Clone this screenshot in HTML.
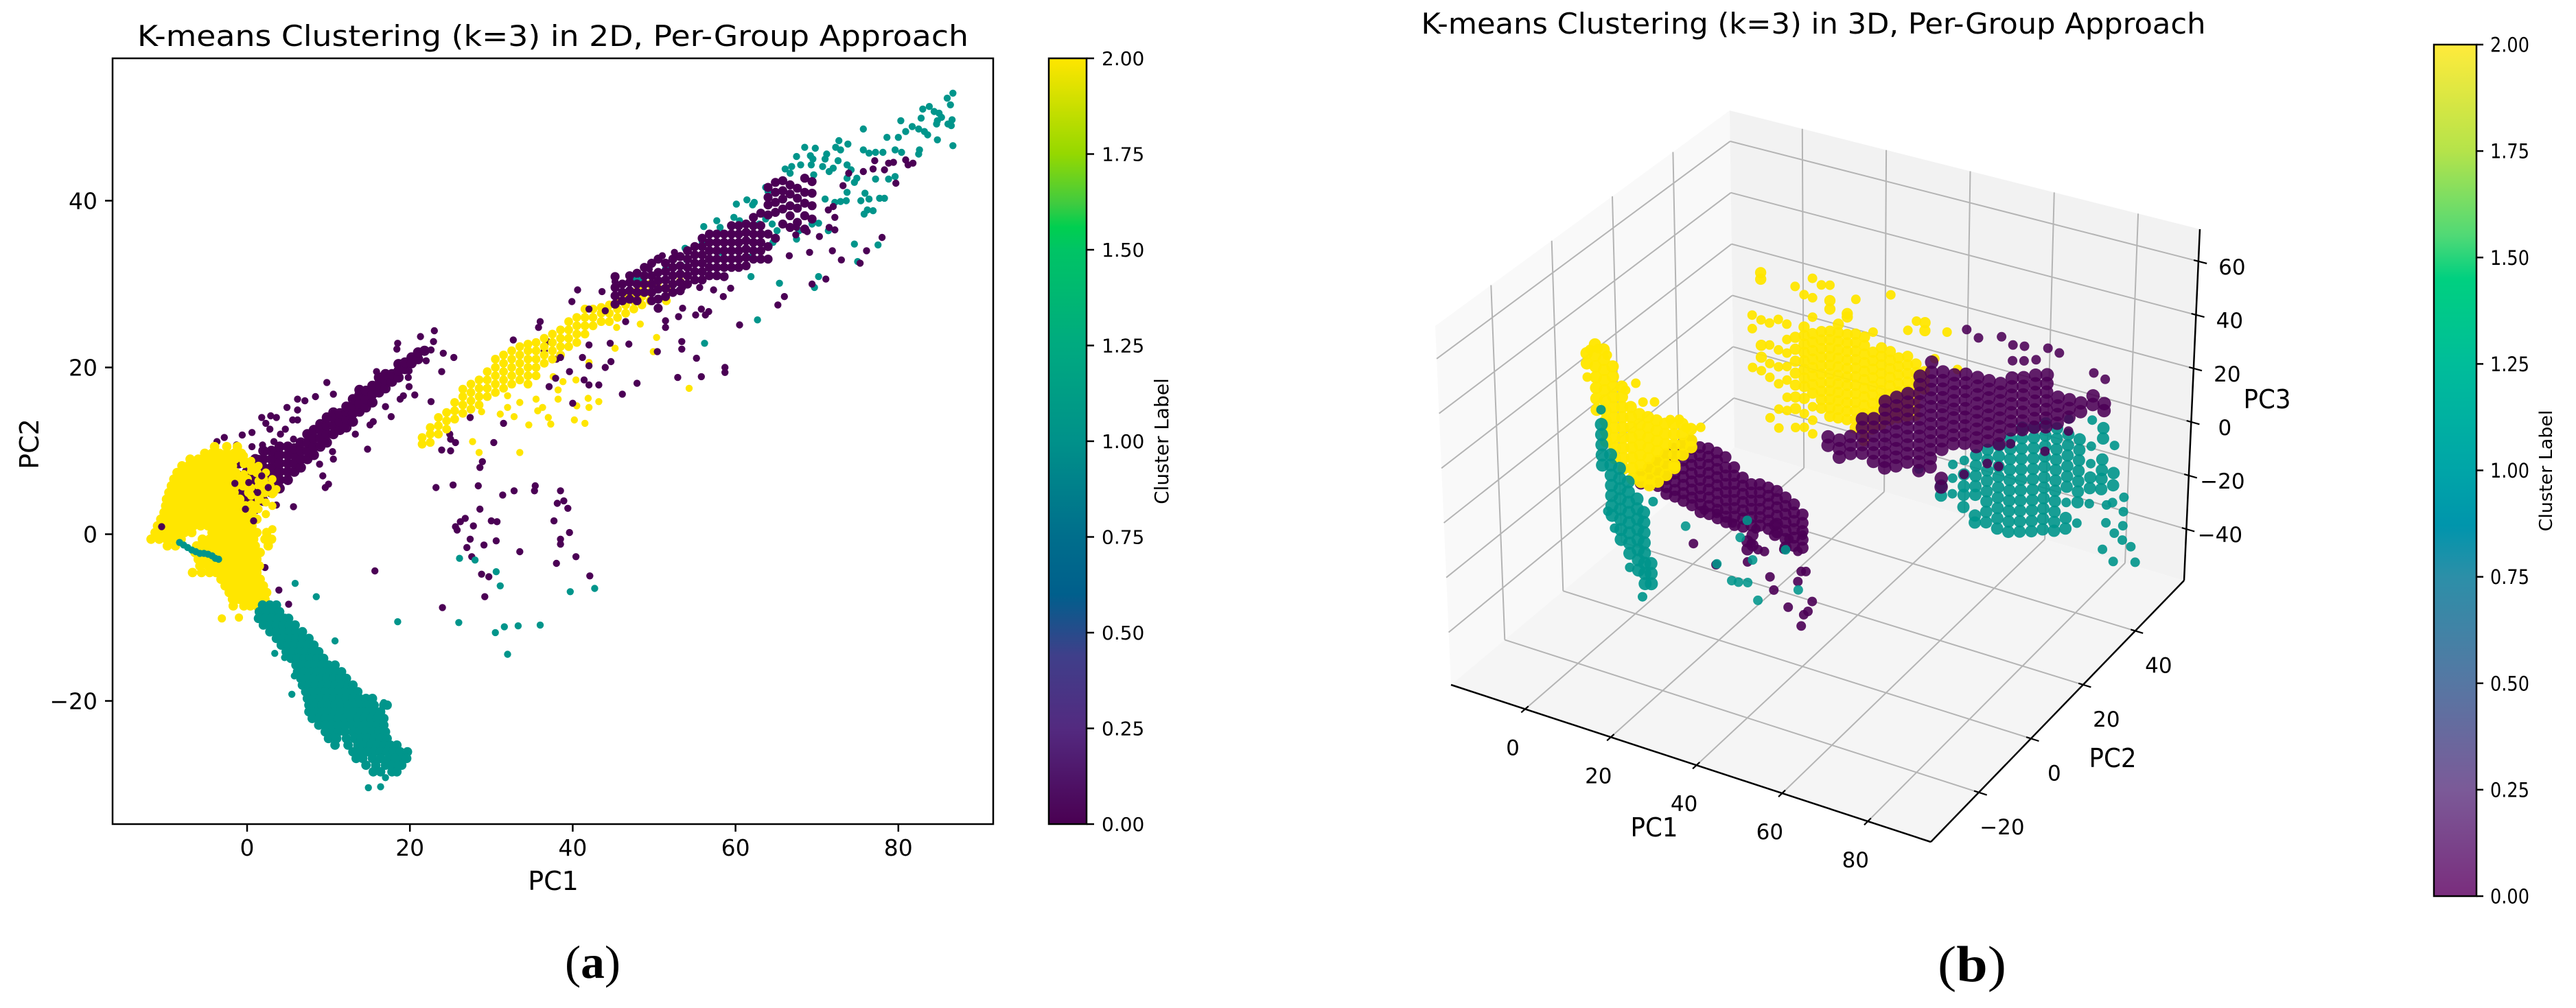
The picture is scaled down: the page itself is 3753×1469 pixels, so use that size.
<!DOCTYPE html>
<html lang="en">
<head>
<meta charset="utf-8">
<title>K-means Clustering (k=3), Per-Group Approach</title>
<style>
html,body{margin:0;padding:0;background:#fff;}
svg{display:block;}
text{font-family:"DejaVu Sans","Liberation Sans",sans-serif;fill:#000;}
.serif{font-family:"Liberation Serif",serif;}
</style>
</head>
<body>
<svg id="figure" xmlns="http://www.w3.org/2000/svg" width="3753" height="1469" viewBox="0 0 3753 1469">
<defs>
<linearGradient id="viridis2d" x1="0" y1="1" x2="0" y2="0">
<stop offset="0" stop-color="#4a0052"/><stop offset="0.125" stop-color="#532a80"/><stop offset="0.22" stop-color="#3f3f8a"/><stop offset="0.3" stop-color="#005f8c"/><stop offset="0.375" stop-color="#006e8c"/><stop offset="0.5" stop-color="#00918a"/><stop offset="0.625" stop-color="#00aa80"/><stop offset="0.75" stop-color="#00c465"/><stop offset="0.78" stop-color="#00cf50"/><stop offset="0.81" stop-color="#3fcb40"/><stop offset="0.875" stop-color="#95d800"/><stop offset="1" stop-color="#ffe600"/>
</linearGradient>
<linearGradient id="viridis3d" x1="0" y1="1" x2="0" y2="0">
<stop offset="0" stop-color="#7a2d7d"/><stop offset="0.125" stop-color="#7b5a98"/><stop offset="0.25" stop-color="#5677a3"/><stop offset="0.375" stop-color="#2c8fa8"/><stop offset="0.435" stop-color="#0095ac"/><stop offset="0.5" stop-color="#00a5a8"/><stop offset="0.625" stop-color="#00bd9a"/><stop offset="0.725" stop-color="#00d080"/><stop offset="0.775" stop-color="#4fd976"/><stop offset="0.875" stop-color="#b5e34a"/><stop offset="1" stop-color="#ffeb3b"/>
</linearGradient>
</defs>

<text x="805.5" y="67" font-size="42" text-anchor="middle" textLength="1211" lengthAdjust="spacingAndGlyphs">K-means Clustering (k=3) in 2D, Per-Group Approach</text>
<text x="806" y="1297" font-size="38" text-anchor="middle">PC1</text>
<text transform="translate(56,647) rotate(-90)" font-size="38" text-anchor="middle">PC2</text>
<rect x="164" y="85" width="1283" height="1116" fill="#fff"/>
<g id="marks2d"></g>
<rect x="164" y="85" width="1283" height="1116" fill="none" stroke="#000" stroke-width="2.5"/>
<g id="axes2d"></g>
<rect x="1528" y="85" width="55" height="1116" fill="url(#viridis2d)" stroke="#000" stroke-width="2.5"/>
<g id="cbar2d"></g>
<text transform="translate(1702,643) rotate(-90)" font-size="28" text-anchor="middle">Cluster Label</text>
<text class="serif" x="823" y="1425" font-size="68" textLength="81" lengthAdjust="spacingAndGlyphs">(<tspan font-weight="bold">a</tspan>)</text>

<text x="2642" y="49" font-size="42" text-anchor="middle" textLength="1143" lengthAdjust="spacingAndGlyphs">K-means Clustering (k=3) in 3D, Per-Group Approach</text>
<g id="box3d"></g>
<g id="marks3d"></g>
<g id="axes3d"></g>
<text x="2410" y="1219" font-size="38" text-anchor="middle" textLength="69" lengthAdjust="spacingAndGlyphs">PC1</text>
<text x="3078" y="1118" font-size="38" text-anchor="middle" textLength="69" lengthAdjust="spacingAndGlyphs">PC2</text>
<text x="3303" y="595" font-size="38" text-anchor="middle" textLength="69" lengthAdjust="spacingAndGlyphs">PC3</text>
<rect x="3546" y="65" width="62" height="1241" fill="url(#viridis3d)" stroke="#000" stroke-width="2.5"/>
<g id="cbar3d"></g>
<text transform="translate(3718,686) rotate(-90)" font-size="26" text-anchor="middle" textLength="177" lengthAdjust="spacingAndGlyphs">Cluster Label</text>
<text class="serif" x="2823" y="1430" font-size="74" textLength="100" lengthAdjust="spacingAndGlyphs">(<tspan font-weight="bold">b</tspan>)</text>
</svg>

<script>
// ---------- tick labels ----------
const ticksPc1_2d = [0, 20, 40, 60, 80];
const ticksPc2_2d = [-20, 0, 20, 40];
const ticksCbar = [0, 0.25, 0.5, 0.75, 1, 1.25, 1.5, 1.75, 2];
const ticksPc1_3d = [0, 20, 40, 60, 80];
const ticksPc2_3d = [-20, 0, 20, 40];
const ticksPc3_3d = [-40, -20, 0, 20, 40, 60];

// ---------- 2D data: columns are [pc1, pc2, pc2...], rows are [pc2, pc1, pc1...] ----------
const purpleArmColumns2d = [
[-2,6,7,8],[-1,5,6,7,8.5],[0,2.5,3.5,4.5,5.5,6.5,7.5,8.5],[1,3,4,5,6,7,8,9],[2,4,5,6,7,8,9,10],[3,5,6,7,8,9,10],[4,5.5,6.5,7.5,8.5,9.5,10.5],[5,6.5,7.5,8.5,9.5,10.5],[5.8,7.5,8.5,9.5,10.3],[6.6,8,9,10,11],[7.4,9,10,11,12],[8.2,9.5,10.5,11.5,12.5],[9,10.5,11.5,12.5,13.2],[9.8,11,12,13,14],[10.6,12,13,14,14.6],[11.4,12.5,13.5,14.5],[12.2,12.8,13.8,14.8,15.3],[13,13.5,14.5,15.5,16.2],[13.8,14.7,15.7,16.7,17.3],[14.6,15.2,16.2,17.2],[15.4,15.8,16.8,17.8],[16.2,17,18,18.8],[17,17.5,18.5,19.2],[17.8,18.3,19.2],[18.6,18.8,19.6,20.4],[19.4,19.8,20.6],[20.2,20.5,21.2],[21,21,21.8],[21.8,22]
];
const purpleScatter2d = [
[23,24.4],[18.5,22.9],[18.4,22.2],[21.3,23.7],[22.9,23.1],[22.6,22.1],[24.1,21.7],[25.4,21.2],[23.9,19.5],[22,20.8],[19.9,19.6],[19.8,18.8],[19.9,17.7],[20.6,16.7],[19.2,16.6],[22.6,15.9],[18.8,16.2],[17.7,14.1],[17,15.3],[15.5,16],[15.5,13.5],[15.1,13.1],[14.8,10.2],[13.3,12],[15.9,19.5],[9.8,18.2],[10.6,16.8],[8.4,16.5],[7.1,16],[6.2,16.2],[4.9,15.2],[6.2,14.9],[6.2,13.7],[5.6,13.7],[1.8,14],[2.9,14.2],[3.6,14],[2.3,13.3],[2.8,12.6],[.6,12.2],[4.7,12.6],[4.1,12],[5.7,11.4],[3.3,11.1],[-.6,11.9],[-2.8,11.6],[-3.7,11.1],[-4,10.3],[-1.3,10.7],[.6,10.5],[1.9,10.7],[2.4,9.9],[1.4,9.1],[8.9,8.4],[10.5,9.9],[10.6,9],[9.3,7],[10,6],[9.6,5.6],[3.6,3.5],[5.7,3.3],[-5.9,8.6],
[23.2,5.6],[25.3,5.9],[28.4,5.8],[31.4,4.7],[32.8,5.2],[35.3,5.2],[35.4,5.8],[38.5,5.2],[38.1,3.7],[38.9,4],[39.4,3.1],[28.6,3],[30,1.6],[30.7,1.5],[37.7,1.6],[39.6,.2],[26.8,1.9],[26.2,1.5],[25.6,.9],[25.8,.5],[27.8,1],[30.6,-.8],[29.1,-1.3],[27.4,-.6],[27,-1.6],[38.5,-.6],[38.5,-1.2],[33.5,-2.1],[40.4,-2.7],[27.6,-2.7],[38,-3.5],[28.8,-4.8],[29.7,-5.1],[42.1,-5],[29.2,-7.5],[24,-8.8],[15.7,-4.4],[2.2,-4],[3.9,-6.7],[5.1,-8.4],
[24.9,12],[25,11.4],[25.6,11],[23.9,10.1],[25,10],[27.4,14],[30.3,11],[28.6,8],[28.9,8.7],[31.5,13.3],[32.7,23.3],[36,25.5],[35.8,24.8],[36.9,23.1],[38.5,23.4],[38,21],[36.5,22]
];
const yellowBlobRows2d = [
[10.5,-4,-2.5,-1.2],[9.7,-5.2,-4.3,-3.4,-2.5,-1.6,-.7],[9,-7,-6,-5.1,-4.2,-3.3,-2.4,-1.5,-.5],[8.2,-8,-7.2,-6.3,-5.4,-4.5,-3.6,-2.7,-1.8,.5],[7.4,-8.6,-7.7,-6.8,-5.9,-5,-4.1,-3.2,-2.3,-1.4,1.2],[6.6,-9,-8.2,-7.3,-6.4,-5.5,-4.6,-3.7,-2.8,-1.9,-1,0,2],[5.8,-9.3,-8.6,-7.7,-6.8,-5.9,-5,-4.1,-3.2,-2.3,-1.4,-.5,1.5,2.8],[5,-9.6,-8.8,-7.9,-7,-6.1,-5.2,-4.3,-3.4,-2.5,-1.6,.2,2.2,3.2],[4.2,-9.9,-9,-8.1,-7.2,-6.3,-5.4,-4.5,-3.6,-2.7,-1.8,-.9,1.5],[3.4,-10,-9.2,-8.3,-7.4,-6.5,-5.6,-4.7,-3.8,-2.9,-2,-1.1,-.2,1],[2.6,-10.2,-9.3,-8.4,-7.5,-6.6,-5.7,-4.8,-3.9,-3,-2.1,-1.2,-.3,.6],[1.8,-10.6,-9.7,-8.8,-7.9,-7,-6.1,-5.2,-4.3,-3.4,-2.5,-1.6,-.7,.2,1.2],[1,-11,-10.2,-9.3,-8.4,-7.5,-6.6,-5.7,-4.8,-3.9,-3,-2.1,-1.2,-.3,.6],[.2,-11.3,-10.4,-9.5,-8.6,-7.7,-6.8,-4.3,-3.4,-2.5,-1.6,-.7,.2,1.2,2.4],[-.6,-11.8,-10.8,-9.9,-9,-8.1,-5.5,-4.6,-3.7,-2.8,-1.9,-1,-.1,.8,2.2,3],[-1.4,-9.8,-8.8,-6.2,-5.3,-4.4,-3.5,-2.6,-1.7,-.8,.1,1,2.6],[-2.2,-6.4,-5.5,-4.6,-3.7,-2.8,-1.9,-1,-.1,.8,1.6],[-3,-6,-5.1,-4.2,-3.3,-2.4,-1.5,-.6,.3,1.2],[-3.8,-5.8,-4.8,-3.9,-3,-2.1,-1.2,-.3,.6,1.5],[-4.6,-6.7,-5.6,-4.6,-3.8,-3,-2.2,-1.4,-.5,.4,1.2],[-5.4,-3.2,-2.4,-1.6,-.8,0,.8,1.6],[-6.2,-2.7,-1.9,-1.1,-.3,.5,1.3,2],[-7,-2.2,-1.4,-.6,.2,1,1.8,2.4],[-7.8,-1.8,-1,-.2,.6,1.4,2.2],[-8.6,-1.7,-.4,.4,1.2]
];
const yellowBlobExtras2d = [
[-3.1,-10.1],[-1,-10],[.5,3.6],[.5,4.6],[.5,5.6],[.5,7.6],[.5,8.8],[1.4,3],[1.4,4.4],[1.4,6.4],[1.4,8.2],[2.3,2.4],[2.3,3.8],[2.3,6],[2.3,7.4],[3.1,.6],[3.1,3.4],[3.1,4.8],[3.1,6.6],[-.4,9.4],[-.4,8.4],[-.4,7.2],[3.6,5.4]
];
const yellowBandColumns2d = [
[21.5,10.8,11.6],[22.5,11,12,12.8],[23.5,12,13,14],[24.5,12.6,13.6,14.6],[25.5,13.8,14.8,15.8],[26.5,14.5,15.5,16.5,17.4],[27.5,15,16,17,18],[28.5,15.5,16.5,17.5,18.5],[29.5,16.5,17.5,18.5,19.5],[30.5,17,18,19,20,21],[31.5,17.5,18.5,19.5,20.5,21.5],[32.5,18,19,20,21,22],[33.5,18.5,19.5,20.5,21.5,22.5],[34.5,18,19,20,21,22,22.8],[35.5,19,20,21,22,23],[36.5,20.5,21.5,22.5,23.5],[37.5,21,22,23,24],[38.5,21.5,22.5,23.5,24.5],[39.5,22.5,23.5,24.5,25.5],[40.5,23,24,25,26],[41.5,24,25,26,27],[42.5,25,26,27],[43.5,25.5,26.5,27.2],[44.5,25.5,26.5,27.5],[45.5,26,27,28],[46.5,26.5,27.5,28.5],[47.5,27,28,29],[48.5,27.5,28.5,29.5],[49.5,28,29,30],[50.5,29.5,30.3],[51.5,28,29.5],[53.2,30.3]
];
const yellowScatter2d = [
[27.7,11.1],[28.5,9.8],[33.5,9.8],[34.6,13.1],[37.3,13.2],[32.8,14.1],[31.1,14.4],[32,15.2],[33.5,15.8],[35.7,14.8],[36.3,15.2],[28.8,14.7],[37,14],[40.2,13.7],[41.5,13.3],[40.5,15.4],[42,15.2],[41.9,16.3],[43.2,15.9],[38.2,16.2],[35.5,16.2],[32,16.6],[38.2,17.3],[38.8,18.3],[37.6,18.9],[40.4,18.5],[49.9,21.9],[50.3,23.6],[45.2,22.3],[42,20.6],[48.3,25.2],[45.4,24.8],[54.3,17.5]
];
const tealMassRows2d = [
[-8.5,1.9,2.8,3.6],[-9.3,1.5,2.4,3.3,4],[-10.1,1.4,2.2,3,3.8,4.6,5.1],[-10.9,2,2.8,3.6,4.4,5.2,5.9],[-11.7,2.8,3.6,4.4,5.2,6,6.8],[-12.5,3.6,4.4,5.2,6,6.8,7.6],[-13.3,4.2,5,5.8,6.6,7.4,8.2],[-14.1,4.8,5.6,6.4,7.2,8,8.8],[-14.9,5.4,6.2,7,7.8,8.6,9.4],[-15.7,6,6.8,7.6,8.4,9.2,10,10.8],[-16.5,6.2,7,7.8,8.6,9.4,10.2,11,11.6],[-17.3,6.6,7.4,8.2,9,9.8,10.6,11.4,12.2],[-18.1,6.8,7.6,8.4,9.2,10,10.8,11.6,12.4,13],[-18.9,7.2,8,8.8,9.6,10.4,11.2,12,12.8,13.6],[-19.7,7.4,8.2,9,9.8,10.6,11.4,12.2,13,13.8,14.6,15.4],[-20.5,7.6,8.4,9.2,10,10.8,11.6,12.4,13.2,14,14.8,15.6,16.8,17.2],[-21.3,7.6,8.4,9.2,10,10.8,11.6,12.4,13.2,14,14.8,15.6,16.4],[-22.1,8,8.8,9.6,10.4,11.2,12,12.8,13.6,14.4,15.2,16,16.8],[-22.9,8.8,9.6,10.4,11.2,12,12.8,13.6,14.4,15.2,16,16.8],[-23.7,9.6,10.4,11.2,12,13,13.8,14.6,15.4,16.2,17],[-24.5,10,11,12.2,13.2,14,14.8,15.6,16.4,17.2],[-25.3,10.8,12.4,13.6,14.4,15.2,16,16.8,17.6,18.4],[-26.1,13,14,14.8,15.6,16.4,17.2,18,18.8,19.7],[-26.9,13.4,14.2,15.4,16.4,17.4,18.2,19,19.6],[-27.7,14.6,15.8,17,17.8,18.6,19],[-28.5,15.5,16.4,17.8,18.4]
];
const tealScatter2d = [
[14.9,-30.4],[16.4,-30.3],[17,-29.2],[3.4,-14.3],[4.6,-14.8],[5.5,-19.2],[5.8,-17],[16.8,-20.2],[5.9,-5.9],[8.5,-7.5],[10.8,-12.8],[18.5,-10.5],[26.1,-2.9],[28,-3.1],[30.6,-4.5],[31.1,-6.2],[39.7,-6.9],[42.7,-6.5],[26,-10.6],[30.5,-11.8],[31.6,-11.1],[33.3,-11],[36,-10.9],[32,-14.4],
[-8.3,-1],[-7.8,-1.3],[-7.3,-1.6],[-6.8,-1.9],[-6.3,-2.1],[-5.8,-2.3],[-5.3,-2.3],[-4.8,-2.4],[-4.3,-2.6],[-3.9,-2.9],[-3.5,-3],
[86.7,52.9],[86,52.3],[86.4,51.5],[83,51],[83.8,51.3],[84.4,50.7],[85,50.5],[85.3,50],[84.8,49.6],[84.7,49.2],[86.6,49.7],[86.1,49.2],[86.5,49],[82.8,49.9],[80.3,49.6],[81.7,48.9],[80.9,48.3],[82.5,48.6],[83.2,48.3],[83.6,47.9],[84.8,47.3],[86.7,46.6],[75.7,48.6],[78.6,47.6],[80,47.6],[72.7,47.2],[73.8,46.8],[72.3,46.4],[72.9,46.1],[68.5,46.4],[69.8,46.3],[69.2,45.4],[67.5,45.3],[71.2,45.6],[71,45],[69.5,45],[72.6,44.8],[75.7,46.1],[77.2,45.8],[76.4,45.7],[78.1,45.8],[79.6,46.1],[80.4,45.8],[82.6,46.1],[82.5,45.6],[73.7,44.3],[72,43.9],[70.7,44.1],[69.3,44.3],[68,44.3],[66.9,44.1],[66.1,43.8],[66.7,43.3],[69.6,43.1],[71.5,43.5],[74.2,43.7],[74.9,42.7],[74.6,42.2],[77.2,42.6],[78.8,42.6],[79.6,42.9],[73.7,42.7],[73.7,41],[75.9,40.9],[75.4,40],[76.4,40.2],[77.7,40.3],[78.3,40.3],[73.6,40],[72.2,39.8],[72.9,39.9],[71,40.2],[76.9,38.8],[76.2,38.9],[75.8,38.4],[63.7,41.6],[64,41.1],[60.1,39.6],[61.4,40.1],[62.3,39.8],[62.1,39.5],[59.8,38],[60.5,37.6],[57.7,37.6],[58.1,36.8],[56.1,36.9],[62.9,37.2],[63.7,37.8],[64.5,37.2],[65.1,36.4],[67.8,36.4],[70.2,37.3],[69.4,37.2],[71.4,36.4],[67.5,35.4],[64.6,35],[74.6,34.8],[77.5,34.7],[75,32.7],[70.2,30.9],[69.7,29.6],[65.4,30.1],[61.9,30.9],[62.7,25.7],[56.2,22.9],[53.8,34.3],[55.9,35.1],[54,32.9],[51.4,31.8],[48.4,30.7],[47.6,30.5],[58.3,33.8],[61.8,33.2]
];
const purpleUpperColumns2d = [
[45.2,27.6,28.6,29.6,30.9],[46.1,28,29,30],[47,28.2,29.2,30.2,31],[47.9,28,29,30,31.3],[48.8,29,30,31,32],[49.7,28,29,30,31,32.5],[50.5,27.1,28.2,29.4,30.4,31.4,33],[51.4,28.5,29.5,30.5,31.5,32.5],[52.3,29,30,31,32,33],[53.2,29.2,30.2,31.2,32.2,33.3],[54.1,30,31,32,33,34],[55,30.5,31.5,32.5,33.5,34.5],[55.9,30.5,31.5,32.5,33.5,34.5,35.5],[56.8,31,32,33,34,35,36],[57.7,31,32,33,34,35,36],[58.6,30.9,32,33,34,35,36],[59.5,32,33,34,35,36,37],[60.4,32,33,34,35,36,37],[61.3,32.2,33.2,34.2,35.2,36.2,37.2],[62.2,33,34,35,36,37,38],[63.1,33,34,35,36,37,38.5],[64,33,34.5,36,38.3,39.5,40.4,41.6],[64.9,35.5,38.6,39.8,41,42.2],[65.8,37.2,39,40.2,41.2,42.4],[66.7,36.8,38.2,39.4,40.8,41.9],[67.6,37.4,39.1,40.3,41.5],[68.5,36.6,38.2,39.7,41,42.7],[69.4,37.8,39.4,40.9,42.3]
];
const purpleUpperScatter2d = [
[40.6,29.3],[39.9,27.9],[43.6,29.1],[45.2,30.3],[49.4,31.8],[51,33.4],[52.5,33.8],[53.5,29.6],[55.6,29.6],[57.3,29.3],[58.5,28.5],[59.4,29.5],[51.4,25.6],[51.4,24.8],[53.5,27.1],[53,26.1],[55.1,26.3],[55.8,27],[56.7,26.7],[56.3,26.3],[53.4,23.1],[53.4,22.2],[55.2,21.1],[52.9,18.8],[55.8,18.9],[58.7,20],[58.7,19.4],[60.5,25.1],[50.4,21.9],[46.9,22.8],[44.7,20.7],[44,20],[46.1,16.8],[47.9,18.1],[65.2,27.5],[66,28.5],[69.4,30],[71.1,30.6],[69.1,33.8],[66.6,33.4],[71.9,34],[73,32.9],[76.1,34],[78,35.6],[75.3,32.5],[77.1,44.8],[76.9,43.8],[75.7,43.5],[78.3,43.7],[78.8,44.5],[79.4,44.6],[80.9,44.9],[81.8,44.5],[81.2,44.3],[79.7,42.1],[73.9,43.3],[73.2,41.8],[72,39.3],[72.2,38],[71.4,38.9],[72.2,36.5],[71.5,36.8],[70.3,35.7],[68.8,36.3],[67.4,35.9],[67.5,36.8],[42,27],[44,26.8],[46.5,25.5],[44.6,22.9],[42,22.7],[38.5,21.2],[41.2,21.2],[42,20.2],[41.4,18.5],[42,17.9],[43.2,17.9],[40,15.7],[39.6,19.5],[37.1,17.7],[37.9,18.7],[-10.5,.9],[-1.5,6.1],[-.2,3],[.8,1.6],[1.3,5],[2.6,5.6],[1.8,7],[.2,6.2]
];

// ---------- 3D data: columns are [pc1, pc2, pc3, pc3...] ----------
const tealRight3d = [
[47.8,30,-10.7],[53.2,30,-14.4,-18.2],[55.9,30,-5.4,-10.5,-16.3],[58.6,30,-2.7,-7.9,-12.3,-15.5,-20],[61.4,30,.5,-3.4,-7.2,-11,-14.2,-21.9,-24.5],[64.1,30,3.7,-.1,-4,-7.8,-11.7,-15.5,-19.3,-23.2],[66.8,30,6.4,2.5,-1.3,-5.1,-9,-12.8,-16.7,-20.5,-24.3],[69.5,30,10.2,6.4,2.6,-1.3,-5.1,-9,-12.8,-16.6,-20.5,-24.3],[72.2,30,15.4,11.5,7.7,3.9,0,-3.8,-7.7,-11.5,-15.3,-19.2,-23],[75,30,16.8,12.9,9.1,5.3,1.4,-2.4,-6.3,-10.1,-13.9,-17.8,-21.6],[77.7,30,19.4,14.9,11,7.2,3.4,-.5,-4.3,-8.2,-12,-15.8,-19.7],[80.4,30,18.7,14.9,11,7.2,3.4,-.5,-4.3,-8.1,-12,-15.8,-19],[83.1,30,23.3,17.6,13.7,9.9,6,2.2,-1.6,-7.4,-13.1,-17],[85.8,30,17,13.1,9.3,5.4,1.6,-2.2,-6.1,-13.8],[88.6,30,25.3,15.7,9.3,4.2,.3,-5.4],[91.3,30,23.5,19.7,12,8.1,4.9,1.1],[88,40,6.3,-3.9,-8.4,-14.8],[86.6,40,-16.3,-22.9],[88.7,40,-25.8,-36.3],[90.7,40,-11.7,-17,-22.2,-27.5],[92.8,40,-29],[94,40,-34.2],[86,40,-33]
];
const yellowRight3d = [
[8,30,29.4,24.3,9.6],[10.1,30,46.4,43.9,28.5,18.9,14.4,9.3],[12.1,30,28.2,19.9,12.9,7.7,-7.6],[14.2,30,30.5,19,12.6,6.2,-3.4,-10.5],[16.2,30,29.6,23.8,18.7,13.6,8.5,2,-3],[18.2,30,44.7,25.5,21,16.5,12,7.5,3,-1.4,-8.5],[20.3,30,42.5,30.3,27.1,23.9,20.7,17.5,14.3,11.1,7.9,3.4,-2.3,-7.5],[22.3,30,49.5,42.2,34.9,28.7,25.5,22.3,19.1,15.9,12.7,9.5,6.3,1.2,-3.9,-9],[24.4,30,47.9,30.4,27.2,24,20.8,17.6,14.4,11.2,8,4.8,1.6],[26.4,30,48.7,42.9,39.7,31.4,28.2,25,21.8,18.6,15.4,12.2,9,5.8,2.6,-.6],[28.4,30,34.9,31.7,28.5,25.3,22.1,18.9,15.7,12.5,9.3,6.1,2.9,-.3],[30.5,30,39.8,38.5,32,28.8,25.6,22.4,19.2,16,12.8,9.6,6.4,3.2,0],[32.5,30,46,33,29.8,26.6,23.4,20.2,17,13.8,10.6,7.4,4.2,1,-2.2],[34.6,30,32.8,29.6,26.4,23.2,20,16.8,13.6,10.4,7.2,4,.8,-2.4,-6],[36.6,30,35.5,28,24.8,21.6,18.4,15.2,12,8.8,5.6,2.4,-.8],[38.6,30,30.5,27.3,24.1,20.9,17.7,14.5,11.3,8.1,4.9,1.7],[40.7,30,51.2,30,26.8,23.6,20.4,17.2,14,10.8,7.6,4.4],[42.7,30,28.5,25.3,22.1,18.9,15.7,12.5,9.3,6.1],[44.8,30,39.7,30,26.8,23.6,20.4,17.2,14,10.8,7.6],[46.8,30,44,28,24.8,21.6,18.4,15.2,12,8.8],[48.8,30,44.3,41.3,26,22.8,19.6],[54,30,43],[51.2,30,31.9],[56.6,30,30.2]
];
const purpleRight3d = [
[26,30,-8.5,-11.7],[28.7,30,-8.5,-11.7,-14.9],[31.4,30,-5.9,-9.1,-12.3],[34.2,30,1.9,-1.3,-4.5,-7.7,-10.9],[36.9,30,3.2,0,-3.2,-6.4,-9.6,-12.8],[39.6,30,10.9,7.7,4.5,1.3,-1.9,-5.1,-8.3,-11.5,-14],[42.3,30,13.6,10.4,7.2,4,.8,-2.4,-5.6,-8.8,-12],[45,30,16.2,13,9.8,6.6,3.4,.2,-3,-6.2,-9.4],[47.8,30,23.9,20.7,17.5,14.3,11.1,7.9,4.7,1.5,-1.7,-4.9,-8.1,-11.3],[50.5,30,30.3,26.5,23.3,20.1,16.9,13.7,10.5,7.3,4.1,.9,-2.3,-5.5,-8.7],[53.2,30,27.8,24.6,21.4,18.2,15,11.8,8.6,5.4,2.2,-1,-11.8,-15],[55.9,30,27.9,24.7,21.5,18.3,15.1,11.9,8.7,5.5,2.3],[58.6,30,45.9,29.3,26.1,22.9,19.7,16.5,13.3,10.1,6.9,3.7,-7.9],[61.4,30,44,29.3,26.1,22.9,19.7,16.5,13.3,10.1,6.9,3.7],[64.1,30,29.3,26.1,22.9,19.7,16.5,13.3,10.1,6.9,-1.4],[66.8,30,46.7,29.4,26.2,23,19.8,16.6,13.4,10.2,7,-1.3],[69.5,30,44.8,39,32.6,29.4,26.2,23,19.8,16.6,13.4,8.3],[72.2,30,45.5,40.1,33.9,30.7,27.5,24.3,21.1,17.9,14.7],[75,30,41.7,36,32.8,29.6,26.4,23.2,20,16.8],[77.7,30,47.1,37.3,34.1,30.9,27.7,24.5,21.3,18.1,9.1],[80.4,30,46.5,30.2,27,23.8,20.6],[83.1,30,30.4,27.2,24,18.9],[85.8,30,30.4,27.2],[88.6,30,42.6,34.2,31],[91.3,30,41.4,32.5,29.9]
];
const purpleLeft3d = [
[2,0,-6.6,-9.8],[4,0,-3.1,-6.2,-9.2],[6,0,.4,-2.7,-5.7,-8.8],[8,0,3.8,.8,-2.2,-5.3,-8.3,-10.8],[10,0,6.8,3.8,.8,-2.3,-5.3,-8.4,-10.9],[12,0,9.6,6.5,3.5,.5,-2.6,-5.6,-8.7,-11.5],[14,0,11.8,8.8,5.7,2.7,-.4,-3.4,-6.4,-9.4,-12.2],[16,0,10.2,7.2,4.2,1.1,-1.9,-5,-8,-11,-13.8],[18,0,10.7,7.6,4.6,1.6,-1.5,-4.5,-7.5,-10.6,-13.6],[20,0,10.1,7.1,4,1,-2,-5,-8.1,-11.1,-14.2],[22,0,9.3,5.5,2.5,-.6,-3.6,-6.6,-9.7,-12.7,-14.7],[24,0,6.5,3.4,.4,-2.6,-5.6,-8.6,-11.7,-14.8],[26,0,3.6,.6,-2.4,-5.4,-8.5,-11.5,-14.5],[28,0,2.1,-1,-4,-7,-10.1,-13.1],[30,0,3,0,-3,-6.1,-9.1,-12.2],[32,0,2.7,-.3,-3.3,-6.4,-9.4,-12.5],[34,0,2.4,-.6,-3.6,-6.7,-9.7,-12.8],[36,0,.9,-2.2,-5.2,-8.3,-11.3,-14.3,-17.4],[38,0,-.7,-3.7,-6.8,-9.8,-12.9,-15.9],[40,0,-3.5,-6.6,-9.6,-12.7,-15.7],
[27,0,-19.4,-22.4,-27],[31,0,-21.3],[35.6,0,-18.3],[38.9,0,-17.5,-28.6],[39.7,0,-24.5,-44.5],[40.8,0,-24],[42.3,0,-34.3],[36.6,0,-39.1],[41.3,0,-38.4],[40.3,0,-40.1],[14.2,0,-26.3],[16.9,0,-12.6],[19.8,0,-12.5],[23.5,0,-14.3],[19.5,0,-31.6],[32.3,0,-30],[33.2,0,-34.4],[40,0,-11.1],[36.8,0,-13.9],[29,0,-13.9],[27.9,0,-19.7],[29.5,0,-21.3],[33.5,0,-10.4,-14],[28.2,0,-16.5,-20.3]
];
const yellowLeft3d = [
[-10,0,33.2,29.4,24.3],[-8,0,37.4,33.3,29.2,25.2,21.2,17.2,13],[-6,0,36.4,32.6,28.8,25,21.2,17.4,13.6,9.8,6,2.2],[-4,0,31,27.2,23.4,19.6,15.8,12,8.2,4.4,.6,-3.2],[-2,0,24.4,20.6,16.8,13,9.2,5.4,1.6,-2.2,-6],[0,0,17.7,14,10.2,6.4,2.6,-1.2,-5,-8.9],[2,0,16,12.2,8.4,4.6,.8,-3,-6.8,-9.2],[4,0,15.8,12,8.2,4.4,.6,-3.2,-7,-9.5],[6,0,15.5,11.7,7.9,4.1,.3,-3.5,-7.2],[8,0,15.2,11.4,7.6,3.8,0,-3.8],[10,0,16,12.2,8.4,4.6,.8,-.3],[12,0,17,13.2,9.4,5.6],[14,0,16,11.8,9.3],
[9.2,0,17.3],[11.3,0,18.4],[12.9,0,16],[16.3,0,17.7],[1.3,0,27.2],[-1.1,0,23.5],[5.6,0,22.2],[2.9,0,20.9],[-7.3,0,36.2],[-5.2,0,34.7],[-9.2,0,35]
];
const tealLeft3d = [
[-7,0,13.5,8,4.2,.4,-3.4,-7.2],[-5,0,-2.4,-6.2,-10,-13.8,-17.6,-21.4,-25],[-3,0,-6.5,-10.3,-14.1,-17.9,-21.7,-25.5,-29.3,-33],[-1,0,-10.6,-14.4,-18.2,-22,-25.8,-29.6,-33.4,-37.2],[1,0,-16,-19.7,-23.5,-27.3,-31.1,-34.9,-38.7,-42.5],[2.5,0,-20.3,-24,-27.8,-31.6,-35.4,-39.2,-43,-46.8],[4,0,-38.6,-42.3,-46.1],[1.8,0,-52],[-1.1,0,-42.5],[-6,0,-23.9],[-4.5,0,-29.5],[4.8,0,-15.2]
];
const tealArm3d = [
[12.4,0,-20.7],[25.3,0,-18.8],[28.2,0,-25.7],[19.7,0,-31.2],[23.2,0,-35.7],[24.8,0,-35.5],[27,0,-34.6],[29.4,0,-40],[39,0,-31.6],[36,0,-18.3],[27,0,-11.7]
];

// ---------- helpers ----------
const NS = 'http://www.w3.org/2000/svg';
function el(parent, tag, attrs) {
  const e = document.createElementNS(NS, tag);
  for (const k in attrs) e.setAttribute(k, attrs[k]);
  parent.appendChild(e);
  return e;
}
function fmt(v) { return String(v).replace('-', '\u2212'); }

// ---------- 2D axes ----------
function xScale2d(v) { return 360 + 11.86 * v; }
function yScale2d(v) { return 778.5 - 12.15 * v; }
const marks2d = document.getElementById('marks2d');
const axes2d = document.getElementById('axes2d');
const PURPLE = '#4b0055', TEAL = '#00958b', YELLOW = '#ffe600';

function dot2d(pc1, pc2, color, r) {
  return el(marks2d, 'circle', {cx: xScale2d(pc1).toFixed(1), cy: yScale2d(pc2).toFixed(1), r: r, fill: color});
}
function columns2d(cols, color, r, name) {
  cols.forEach(function (c) { for (let i = 1; i < c.length; i++) {
    const p = dot2d(c[0], c[i], color, r);
    
    
  }});
}
function rows2d(rows, color, r, name) {
  rows.forEach(function (q) { for (let i = 1; i < q.length; i++) {
    const p = dot2d(q[i], q[0], color, r);
    
    
  }});
}
function pairs2d(pairs, color, r, name) {
  pairs.forEach(function (q) {
    const p = dot2d(q[0], q[1], color, r);
    
    
  });
}
columns2d(purpleArmColumns2d, PURPLE, 7.5, 'cluster-0-point');
pairs2d(purpleScatter2d, PURPLE, 5.2, 'cluster-0-point');
rows2d(yellowBlobRows2d, YELLOW, 6.9, 'cluster-2-point');
pairs2d(yellowBlobExtras2d, YELLOW, 6, 'cluster-2-point');
columns2d(yellowBandColumns2d, YELLOW, 6.4, 'cluster-2-point');
pairs2d(yellowScatter2d, YELLOW, 5.2, 'cluster-2-point');
rows2d(tealMassRows2d, TEAL, 6.9, 'cluster-1-point');
pairs2d(tealScatter2d, TEAL, 5.2, 'cluster-1-point');
columns2d(purpleUpperColumns2d, PURPLE, 6.6, 'cluster-0-point');
pairs2d(purpleUpperScatter2d, PURPLE, 5.2, 'cluster-0-point');

ticksPc1_2d.forEach(function (t) {
  const x = xScale2d(t);
  const m = el(axes2d, 'line', {x1: x, y1: 1201, x2: x, y2: 1212, stroke: '#000', 'stroke-width': 2.5});
  
  
  const l = el(axes2d, 'text', {x: x, y: 1247, 'font-size': 33, 'text-anchor': 'middle'});
  l.textContent = fmt(t);
  
  
});
ticksPc2_2d.forEach(function (t) {
  const y = yScale2d(t);
  const m = el(axes2d, 'line', {x1: 164, y1: y, x2: 153, y2: y, stroke: '#000', 'stroke-width': 2.5});
  
  
  const l = el(axes2d, 'text', {x: 142, y: y + 12, 'font-size': 33, 'text-anchor': 'end'});
  l.textContent = fmt(t);
  
  
});

// ---------- colorbars ----------
const cbar2d = document.getElementById('cbar2d');
const cbar3d = document.getElementById('cbar3d');
function cbarY2d(v) { return 1201 - 558 * v; }
function cbarY3d(v) { return 1306 - 620.5 * v; }
ticksCbar.forEach(function (t) {
  const y = cbarY2d(t);
  const m = el(cbar2d, 'line', {x1: 1583, y1: y, x2: 1594, y2: y, stroke: '#000', 'stroke-width': 2.5});
  
  
  const l = el(cbar2d, 'text', {x: 1605, y: y + 10, 'font-size': 28});
  l.textContent = t.toFixed(2);
  
  
});
ticksCbar.forEach(function (t) {
  const y = cbarY3d(t);
  const m = el(cbar3d, 'line', {x1: 3608, y1: y, x2: 3618, y2: y, stroke: '#000', 'stroke-width': 2.5});
  
  
  const l = el(cbar3d, 'text', {x: 3628, y: y + 10.5, 'font-size': 29, textLength: 57, lengthAdjust: 'spacingAndGlyphs'});
  l.textContent = t.toFixed(2);
  
  
});

// ---------- 3D axes: trilinear mapping over the eight box corners ----------
const PC1_MIN = -17.3, PC1_MAX = 94.7, PC2_MIN = -38.4, PC2_MAX = 58.7, PC3_MIN = -59.2, PC3_MAX = 72;
const L0 = [2114, 998], F0 = [2813, 1227], R0 = [3182, 846], B0 = [2527, 652];
const L1 = [2091, 475], F1 = [2825, 682], R1 = [3205, 334], B1 = [2520, 161];
function mix(a, b, t) { return [a[0] + (b[0] - a[0]) * t, a[1] + (b[1] - a[1]) * t]; }
function uvw(u, v, w) {
  const floor = mix(mix(L0, F0, u), mix(B0, R0, u), v);
  const top = mix(mix(L1, F1, u), mix(B1, R1, u), v);
  return mix(floor, top, w);
}
function uOf(v) { return (v - PC1_MIN) / (PC1_MAX - PC1_MIN); }
function vOf(v) { return (v - PC2_MIN) / (PC2_MAX - PC2_MIN); }
function wOf(v) { return (v - PC3_MIN) / (PC3_MAX - PC3_MIN); }
function proj(pc1, pc2, pc3) { return uvw(uOf(pc1), vOf(pc2), wOf(pc3)); }
function pts(list) { return list.map(function (p) { return p[0].toFixed(1) + ',' + p[1].toFixed(1); }).join(' '); }

const box3d = document.getElementById('box3d');
const axes3d = document.getElementById('axes3d');
const paneLeft = el(box3d, 'polygon', {points: pts([L0, B0, B1, L1]), fill: '#f9f9f9'});


const paneBack = el(box3d, 'polygon', {points: pts([B0, R0, R1, B1]), fill: '#f2f2f2'});


const paneFloor = el(box3d, 'polygon', {points: pts([L0, F0, R0, B0]), fill: '#f5f5f5'});



function seg(parent, a, b, color, width) {
  return el(parent, 'line', {x1: a[0].toFixed(1), y1: a[1].toFixed(1), x2: b[0].toFixed(1), y2: b[1].toFixed(1), stroke: color, 'stroke-width': width});
}
const GRID = '#b4b4b4';
ticksPc1_3d.forEach(function (t) {
  const u = uOf(t);
  const g1 = seg(box3d, uvw(u, 0, 0), uvw(u, 1, 0), GRID, 2);
  
  
  const g2 = seg(box3d, uvw(u, 1, 0), uvw(u, 1, 1), GRID, 2);
  
  
});
ticksPc2_3d.forEach(function (t) {
  const v = vOf(t);
  const g1 = seg(box3d, uvw(0, v, 0), uvw(1, v, 0), GRID, 2);
  
  
  const g2 = seg(box3d, uvw(0, v, 0), uvw(0, v, 1), GRID, 2);
  
  
});
ticksPc3_3d.forEach(function (t) {
  const w = wOf(t);
  const g1 = seg(box3d, uvw(0, 0, w), uvw(0, 1, w), GRID, 2);
  
  
  const g2 = seg(box3d, uvw(0, 1, w), uvw(1, 1, w), GRID, 2);
  
  
});

// marks: points with a close neighbour in their column sit inside a dense mass and get massR
const marks3d = document.getElementById('marks3d');
function columns3d(cols, color, opacity, massR, name) {
  cols.forEach(function (c) { for (let i = 2; i < c.length; i++) {
    const s = proj(c[0], c[1], c[i]);
    const gapPrev = i > 2 ? Math.abs(c[i] - c[i - 1]) : 99;
    const gapNext = i < c.length - 1 ? Math.abs(c[i] - c[i + 1]) : 99;
    const r = Math.min(gapPrev, gapNext) <= 4.5 ? massR : 7;
    const p = el(marks3d, 'circle', {cx: s[0].toFixed(1), cy: s[1].toFixed(1), r: r, fill: color, 'fill-opacity': opacity});
    
    
  }});
}
columns3d(tealRight3d, TEAL, 0.9, 9, 'cluster-1-point-3d');
columns3d(yellowRight3d, YELLOW, 0.95, 8.2, 'cluster-2-point-3d');
columns3d(purpleRight3d, PURPLE, 0.88, 9.8, 'cluster-0-point-3d');
columns3d(purpleLeft3d, PURPLE, 0.9, 8.8, 'cluster-0-point-3d');
columns3d(yellowLeft3d, YELLOW, 0.97, 9, 'cluster-2-point-3d');
columns3d(tealLeft3d, TEAL, 0.92, 9.5, 'cluster-1-point-3d');
columns3d(tealArm3d, TEAL, 0.88, 7, 'cluster-1-point-3d');

// axis lines, ticks, labels
const axisX = seg(axes3d, L0, F0, '#000', 2.5);


const axisY = seg(axes3d, F0, R0, '#000', 2.5);


const axisZ = seg(axes3d, R0, R1, '#000', 2.5);



function label3d(pos) {
  return el(axes3d, 'text', {x: pos[0].toFixed(1), y: (pos[1] + 12).toFixed(1), 'font-size': 31, 'text-anchor': 'middle'});
}
ticksPc1_3d.forEach(function (t) {
  const u = uOf(t);
  const m = seg(axes3d, uvw(u, 0.012, 0), uvw(u, -0.014, 0), '#000', 2.2);
  
  
  const anchor = uvw(u, 0, 0);
  const l = label3d([anchor[0] - 18, anchor[1] + 55]);
  l.textContent = fmt(t);
  
  
});
ticksPc2_3d.forEach(function (t) {
  const v = vOf(t);
  const m = seg(axes3d, uvw(0.99, v, 0), uvw(1.017, v, 0), '#000', 2.2);
  
  
  const anchor = uvw(1, v, 0);
  const l = label3d([anchor[0] + 34, anchor[1] + 49]);
  l.textContent = fmt(t);
  
  
});
ticksPc3_3d.forEach(function (t) {
  const w = wOf(t);
  const m = seg(axes3d, uvw(0.99, 1, w), uvw(1.018, 1, w), '#000', 2.2);
  
  
  const anchor = uvw(1, 1, w);
  const l = label3d([anchor[0] + 49, anchor[1] + 7]);
  l.textContent = fmt(t);
  
  
});
</script>
</body>
</html>
